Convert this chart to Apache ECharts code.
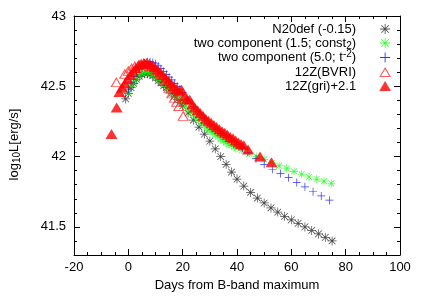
<!DOCTYPE html>
<html>
<head>
<meta charset="utf-8">
<script src="https://cdn.jsdelivr.net/npm/echarts@6/dist/echarts.min.js"></script>
<style>
html,body{margin:0;padding:0;background:#fff;}
#chart{width:425px;height:298px;}
</style>
</head>
<body>
<div id="chart"></div>
<script>
// ---- data ----
const n20Days = [-1,0,1,2,3,4,5,6,7,8,9,10,11,12,13,14,15,16,17,18,19,20,22,24,26,28,30,32,34,36,38,40,42.5,45,47.5,50,52.5,55,57.5,60,62.5,65,67.5,70,72.5,75];
const n20Lum  = [42.41,42.45,42.49,42.52,42.55,42.57,42.585,42.59,42.59,42.585,42.575,42.56,42.54,42.525,42.505,42.49,42.47,42.45,42.43,42.405,42.385,42.36,42.31,42.26,42.21,42.16,42.11,42.055,42.0,41.945,41.89,41.84,41.79,41.745,41.705,41.67,41.635,41.605,41.575,41.55,41.525,41.5,41.475,41.45,41.425,41.4];

const constDays = [0,1,2,3,4,5,6,7,8,9,10,11,12,13,14,15,16,17,18,19,20,21,22,23,24,25,26,27,28,29,30,31,32,33,34,35,36,37,38,39,40,41.8,44.5,47.3,50,52.8,55.5,58.3,61,63.8,66.5,69.3,72,74.7];
const constLum  = [42.46,42.50,42.53,42.56,42.58,42.59,42.60,42.60,42.595,42.585,42.57,42.555,42.54,42.52,42.50,42.485,42.465,42.445,42.425,42.405,42.385,42.36,42.34,42.315,42.295,42.275,42.255,42.235,42.22,42.20,42.185,42.17,42.155,42.14,42.125,42.11,42.10,42.09,42.08,42.07,42.06,42.045,42.02,42.0,41.98,41.955,41.935,41.915,41.895,41.875,41.855,41.84,41.825,41.81];

const t2Days = [0,1,2,3,4,5,6,7,8,9,10,11,12,13,14,15,16,17,18,19,20,22,24,26,28,30,32,34,36,38,40,42,44,47,50,53,56,59,62,65,68,71,74];
const t2Lum  = [42.48,42.53,42.57,42.60,42.63,42.65,42.665,42.675,42.675,42.67,42.66,42.645,42.625,42.605,42.585,42.565,42.545,42.52,42.50,42.48,42.455,42.405,42.355,42.31,42.27,42.23,42.195,42.165,42.135,42.11,42.085,42.06,42.03,41.985,41.945,41.91,41.88,41.85,41.815,41.785,41.75,41.72,41.69];

const bvriDays = [-4.4,-1.3,0,1.2,2.4,4,6,8,10,12,13.5,15,16,17,17.8,18.6,20.2];
const bvriLum  = [42.53,42.59,42.61,42.63,42.645,42.655,42.66,42.645,42.62,42.58,42.54,42.49,42.45,42.42,42.39,42.36,42.29];

const griDays = [-6.2,-4.3,-3.3,-2.3,-1.3,-0.3,0.7,1.7,2.7,3.7,4.7,5.7,6.7,7.7,8.7,9.7,10.7,11.7,12.7,13.7,14.7,15.7,16.7,17.7,18.6,19.6,20.6,21.6,22.6,23.5,24.5,25.5,26.5,27.5,28.5,29.5,30.5,31.5,32.5,33.5,34.5,35.5,36.5,37.5,38.5,39.5,40.5,41.5,42.5,44.1,48.5,52.7];
const griLum  = [42.16,42.35,42.46,42.49,42.52,42.55,42.58,42.605,42.63,42.65,42.66,42.665,42.665,42.66,42.65,42.635,42.62,42.60,42.58,42.56,42.54,42.52,42.50,42.48,42.465,42.475,42.43,42.41,42.405,42.37,42.35,42.33,42.31,42.29,42.27,42.255,42.24,42.225,42.21,42.195,42.18,42.17,42.155,42.14,42.13,42.115,42.10,42.09,42.08,42.05,42.0,41.96];

const seriesNames = ['N20def (-0.15)','two component (1.5; const2)','two component (5.0; t-2)','12Z(BVRI)','12Z(gri)+2.1'];
const legendLabels = ['N20def (-0.15)','two component (1.5; const{sub|2})','two component (5.0; t{sup|-2})','12Z(BVRI)','12Z(gri)+2.1'];
const xTicks = {min:-20, max:100, step:20};
const yTicks = {min:41.3, max:43, step:0.5};

// ---- helpers ----
function pairs(a, b){ return a.map((d,i)=>[d, b[i]]); }
const FONT = 'Liberation Sans, Arial, Helvetica, sans-serif';
const ASTER = 'path://M0,4.6L10,4.6L10,5.4L0,5.4Z M4.6,0L5.4,0L5.4,10L4.6,10Z M1.6,1L9,8.4L8.4,9L1,1.6Z M8.4,1L9,1.6L1.6,9L1,8.4Z';
const PLUS = 'path://M0,4.55L10,4.55L10,5.45L0,5.45Z M4.55,0L5.45,0L5.45,10L4.55,10Z';
const TRI = 'path://M5,0L10,8.5L0,8.5Z';
const TRI_OPEN = 'path://M5,0L10,8.5L0,8.5Z M5,1.9L1.55,7.75L8.45,7.75Z';

const chart = echarts.init(document.getElementById('chart'), null, {renderer:'canvas'});

const axisCommonX = {
  type:'value', min:xTicks.min, max:xTicks.max, interval:xTicks.step,
  axisLine:{show:true, onZero:false, lineStyle:{color:'#000', width:1}},
  axisTick:{show:true, inside:true, length:6, lineStyle:{color:'#000'}},
  minorTick:{show:true, splitNumber:4, length:3, lineStyle:{color:'#000'}},
  splitLine:{show:false}, minorSplitLine:{show:false}
};
const yFmt = v => (Math.abs(v*2 - Math.round(v*2)) < 1e-6 ? String(v) : '');
const axisCommonY = {
  type:'value', min:yTicks.min, max:yTicks.max, minInterval:yTicks.step, maxInterval:yTicks.step, splitNumber:4,
  axisLine:{show:true, onZero:false, lineStyle:{color:'#000', width:1}},
  axisTick:{show:true, inside:true, length:6, lineStyle:{color:'#000'}},
  minorTick:{show:true, splitNumber:5, length:3, lineStyle:{color:'#000'}},
  splitLine:{show:false}, minorSplitLine:{show:false}, scale:true
};

const subRich = {
  sub:{fontSize:10, lineHeight:10, padding:[6,0,0,0], fontFamily:FONT, color:'#000'},
  sup:{fontSize:10, lineHeight:10, padding:[0,0,7,0], fontFamily:FONT, color:'#000'},
  gap:{width:18, fontSize:13, fontFamily:FONT}
};

const option = {
  animation:false,
  backgroundColor:'#fff',
  grid:{left:74, right:25, top:16, bottom:43, outerBoundsMode:'none', containLabel:false},
  legend:{
    orient:'vertical', right:34, top:21, padding:0, align:'right',
    itemWidth:48, itemHeight:10, itemGap:-2, symbolKeepAspect:true,
    data: seriesNames.map(n=>({name:n})),
    formatter: name => legendLabels[seriesNames.indexOf(name)],
    textStyle:{fontFamily:FONT, fontSize:13, color:'#000', lineHeight:16, rich:subRich},
    selectedMode:false
  },
  xAxis:[
    Object.assign({}, axisCommonX, {
      position:'bottom',
      axisLabel:{show:true, margin:6, color:'#000', fontFamily:FONT, fontSize:13},
      name:'Days from B-band maximum', nameLocation:'middle', nameGap:20,
      nameTextStyle:{fontFamily:FONT, fontSize:13, color:'#000'}
    }),
    Object.assign({}, axisCommonX, {position:'top', axisLabel:{show:false}})
  ],
  yAxis:[
    Object.assign({}, axisCommonY, {
      position:'left',
      axisLabel:{show:true, margin:8, color:'#000', fontFamily:FONT, fontSize:13, formatter:yFmt, showMinLabel:false},
      name:'log{sub|10}L[erg/s]{gap| }', nameLocation:'middle', nameGap:52,
      nameTextStyle:{fontFamily:FONT, fontSize:13, color:'#000', lineHeight:16, rich:subRich}
    }),
    Object.assign({}, axisCommonY, {position:'right', axisLabel:{show:false}})
  ],
  series:[
    {name:seriesNames[0], type:'scatter', data:pairs(n20Days, n20Lum), symbol:ASTER, symbolSize:9,
     itemStyle:{color:'#202020'}},
    {name:seriesNames[1], type:'scatter', data:pairs(constDays, constLum), symbol:ASTER, symbolSize:8,
     itemStyle:{color:'#00ff00'}},
    {name:seriesNames[2], type:'scatter', data:pairs(t2Days, t2Lum), symbol:PLUS, symbolSize:8,
     itemStyle:{color:'#0000ff'}},
    {name:seriesNames[3], type:'scatter', data:pairs(bvriDays, bvriLum), symbol:TRI_OPEN, symbolSize:[12,10],
     itemStyle:{color:'#ff3030'}},
    {name:seriesNames[4], type:'scatter', data:pairs(griDays, griLum), symbol:TRI, symbolSize:[12,10],
     itemStyle:{color:'#ff0000'}}
  ]
};
chart.setOption(option);
</script>
</body>
</html>
